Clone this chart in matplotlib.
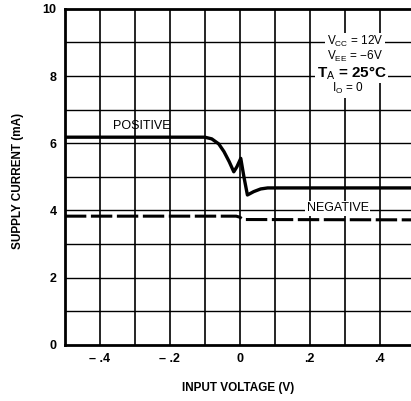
import matplotlib.pyplot as plt
import numpy as np

plt.rcParams['font.family'] = ['Liberation Sans', 'DejaVu Sans']
plt.rcParams['mathtext.fontset'] = 'custom'
plt.rcParams['mathtext.rm'] = 'Liberation Sans'

# positive supply current (mA) vs input voltage (V)
pos_v = [-0.5, -0.1, -0.08, -0.06, -0.045, -0.03, -0.017, -0.008, 0.003, 0.012, 0.022, 0.04, 0.06, 0.08, 0.5]
pos_i = [6.18, 6.18, 6.13, 5.98, 5.75, 5.45, 5.15, 5.3, 5.55, 5.0, 4.46, 4.56, 4.64, 4.67, 4.67]

# negative supply current (mA)
neg_v = [-0.5, -0.01, 0.0, 0.01, 0.5]
neg_i = [3.83, 3.83, 3.8, 3.73, 3.72]

x_ticks = [-0.4, -0.2, 0, 0.2, 0.4]
x_tick_labels = ['\u2013 .4', '\u2013 .2', '0', '.2', '.4']
y_ticks = [0, 2, 4, 6, 8, 10]

fig = plt.figure(figsize=(4.11, 4.01), dpi=100)
ax = fig.add_axes([0.158, 0.14, 0.842, 0.838])

ax.set_xlim(-0.5, 0.49)
ax.set_ylim(0, 10)

for v in np.arange(-0.4, 0.5, 0.1):
    ax.axvline(v, color='black', lw=1.2, zorder=1)
for i in range(1, 10):
    ax.axhline(i, color='black', lw=1.0, zorder=1)

ax.plot(pos_v, pos_i, color='black', lw=2.4, solid_capstyle='round', zorder=3)
ax.plot(neg_v, neg_i, color='black', lw=2.2, dashes=(7, 1.5), zorder=3)

ax.set_xticks(x_ticks)
ax.set_xticklabels(x_tick_labels)
ax.set_yticks(y_ticks)
ax.tick_params(length=0, labelsize=9, pad=6)
for lab in ax.get_xticklabels() + ax.get_yticklabels():
    lab.set_fontweight('bold')

for side in ['left', 'bottom', 'top']:
    ax.spines[side].set_linewidth(2)
ax.spines['right'].set_visible(False)

ax.text(-0.28, 6.5, 'POSITIVE', fontsize=9, ha='center', va='center', zorder=4)
ax.text(0.28, 4.06, 'NEGATIVE', fontsize=9, ha='center', va='center', zorder=4,
        bbox=dict(facecolor='white', edgecolor='none', pad=1))

box = dict(facecolor='white', edgecolor='none', pad=1)
ax.text(0.33, 9.02, r'V$_{\mathrm{CC}}$ = 12V', fontsize=8.5, ha='center', va='center', zorder=4, bbox=box)
ax.text(0.33, 8.57, r'V$_{\mathrm{EE}}$ = $-$6V', fontsize=8.5, ha='center', va='center', zorder=4, bbox=box)
ax.text(0.32, 8.1, r'T$_{\mathrm{A}}$ = 25°C', fontsize=11, fontweight='bold', ha='center', va='center', zorder=4, bbox=box)
ax.text(0.31, 7.62, r'I$_{\mathrm{O}}$ = 0', fontsize=8.5, ha='center', va='center', zorder=4, bbox=box)

fig.text(0.045, 0.55, 'SUPPLY CURRENT (mA)', rotation=90, fontsize=8.5, fontweight='bold', ha='center', va='center')
fig.text(0.58, 0.032, 'INPUT VOLTAGE (V)', fontsize=8.5, fontweight='bold', ha='center', va='center')

fig.savefig('out.png', dpi=100)
